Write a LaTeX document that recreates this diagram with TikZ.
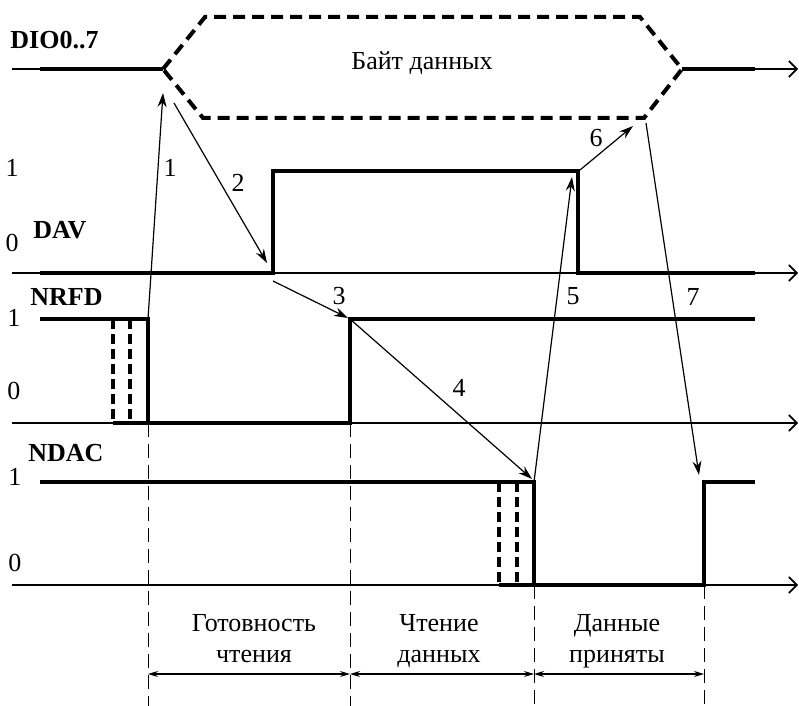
\documentclass[tikz,border=0pt]{standalone}
\usepackage{fontspec}
\setmainfont{Liberation Serif}
\usetikzlibrary{arrows.meta}

\begin{document}
\begin{tikzpicture}[x=0.5pt, y=-0.5pt,
  font=\fontsize{13}{15.5}\selectfont,
  axis/.style={line width=0.8pt, -{Straight Barb[length=4pt,width=8pt]}},
  sig/.style={line width=2pt, line join=miter},
  bus/.style={sig, dash pattern=on 6pt off 3.5pt},
  gap/.style={line width=1.8pt, dash pattern=on 5pt off 2.5pt},
  guide/.style={line width=0.5pt, dash pattern=on 7pt off 3.5pt},
  cause/.style={line width=0.6pt, -{Stealth[length=7pt,width=4.5pt]}},
  span/.style={line width=0.6pt, {Stealth[length=5pt,width=3pt]}-{Stealth[length=5pt,width=3pt]}},
  signame/.style={font=\fontsize{13}{15.5}\selectfont\bfseries, anchor=west, inner sep=0pt},
  lvl/.style={inner sep=0pt},
  phase/.style={align=center, inner sep=0pt}]
  \useasboundingbox (0,0) rectangle (799,706);

  % signal edges
  \coordinate (dvup) at (273,171);
  \coordinate (dvdn) at (578,171);
  \coordinate (nrdn) at (148,319);
  \coordinate (nrup) at (350,319);
  \coordinate (nddn) at (534,482);
  \coordinate (ndup) at (704,482);

  % axes
  \coordinate (dioL) at (12,69);   \coordinate (hexL) at (163,69);
  \coordinate (hexR) at (682,69);  \coordinate (dioR) at (798,69);
  \coordinate (davL) at (12,273);  \coordinate (davR) at (798,273);
  \coordinate (nrL) at (12,423);   \coordinate (nrR) at (798,423);
  \coordinate (ndL) at (12,585);   \coordinate (ndR) at (798,585);
  \draw[line width=0.8pt] (dioL) -- (hexL);
  \draw[axis] (hexR) -- (dioR);
  \draw[axis] (davL) -- (davR);
  \draw[axis] (nrL) -- (nrR);
  \draw[axis] (ndL) -- (ndR);

  % phase guides
  \draw[guide] (148,423) -- (148,706);
  \draw[guide] (350,423) -- (350,706);
  \draw[guide] (534,585) -- (534,706);
  \draw[guide] (704,585) -- (704,706);

  % DIO0..7
  \node[signame] (dio) at (10,40) {DIO0..7};
  \draw[sig] (40,69) -- (hexL);
  \draw[bus] (hexL) -- (205,17) -- (640,17) -- (hexR) -- (644,118) -- (203,118) -- cycle;
  \draw[sig] (hexR) -- (755,69);
  \node (byte) at (422,63) {Байт данных};

  % DAV
  \node[signame] (dav) at (33,230) {DAV};
  \node[lvl] (dav1) at (12,168) {1};
  \node[lvl] (dav0) at (12,243) {0};
  \draw[sig] (40,273) -- (273,273) -- (dvup) -- (dvdn) -- (578,273) -- (755,273);

  % NRFD
  \node[signame] (nrfd) at (30,297) {NRFD};
  \node[lvl] (nrfd1) at (14,318) {1};
  \node[lvl] (nrfd0) at (14,391) {0};
  \draw[sig] (40,319) -- (nrdn) -- (148,423) -- (350,423) -- (nrup) -- (755,319);
  \draw[sig] (113,423) -- (148,423);
  \draw[gap] (113,319) -- (113,423);
  \draw[gap] (130,319) -- (130,423);

  % NDAC
  \node[signame] (ndac) at (28,453) {NDAC};
  \node[lvl] (ndac1) at (15,477) {1};
  \node[lvl] (ndac0) at (15,563) {0};
  \draw[sig] (40,482) -- (nddn) -- (534,585) -- (704,585) -- (ndup) -- (755,482);
  \draw[sig] (499,585) -- (534,585);
  \draw[gap] (499,482) -- (499,585);
  \draw[gap] (517,482) -- (517,585);

  % handshake order
  \coordinate (t1) at (163,93);
  \coordinate (s2) at (174,103);   \coordinate (t2) at (267,263);
  \coordinate (s3) at (273,281);   \coordinate (t3) at (348,318);
  \coordinate (t4) at (532,479);
  \coordinate (t5) at (572,177);
  \coordinate (s6) at (580,170);   \coordinate (t6) at (633,126);
  \coordinate (s7) at (646,123);   \coordinate (t7) at (699,475);
  \draw[cause] (nrdn) -- (t1);
  \draw[cause] (s2) -- (t2);
  \draw[cause] (s3) -- (t3);
  \draw[cause] (nrup) -- (t4);
  \draw[cause] (nddn) -- (t5);
  \draw[cause] (s6) -- (t6);
  \draw[cause] (s7) -- (t7);
  \node[lvl] (n1) at (170,168) {1};
  \node[lvl] (n2) at (238,183) {2};
  \node[lvl] (n3) at (339,296) {3};
  \node[lvl] (n4) at (459,388) {4};
  \node[lvl] (n5) at (573,296) {5};
  \node[lvl] (n6) at (596,138) {6};
  \node[lvl] (n7) at (693,297) {7};

  % phases
  \coordinate (p1) at (148,674);
  \coordinate (p2) at (350,674);
  \coordinate (p3) at (534,674);
  \coordinate (p4) at (704,674);
  \draw[span] (p1) -- (p2);
  \draw[span] (p2) -- (p3);
  \draw[span] (p3) -- (p4);
  \node[phase] (ready) at (254,639) {Готовность\\чтения};
  \node[phase] (read) at (439,641) {Чтение\\данных};
  \node[phase] (done) at (617,641) {Данные\\приняты};
\end{tikzpicture}
\end{document}
